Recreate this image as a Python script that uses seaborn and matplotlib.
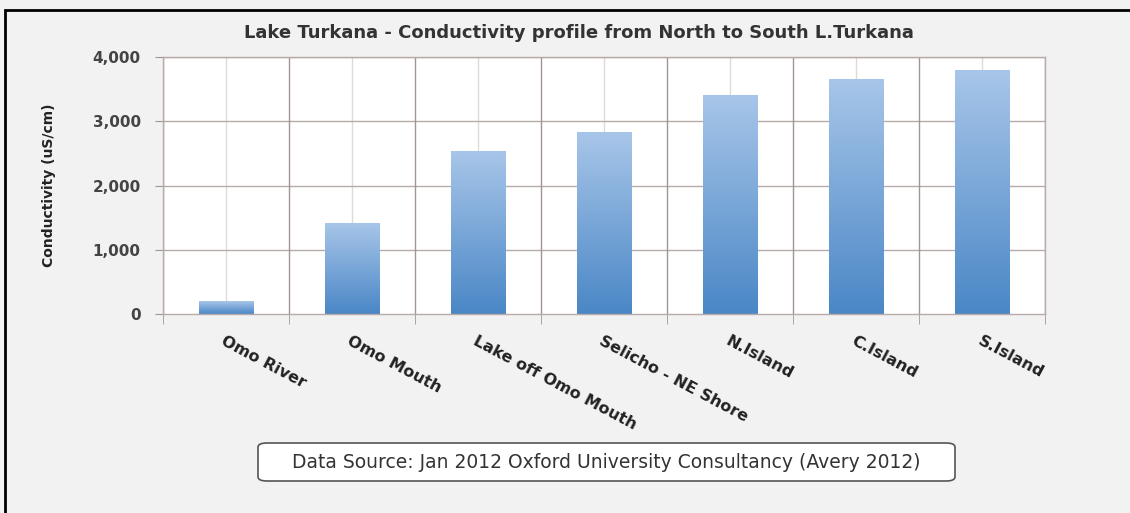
import numpy as np
import seaborn as sns
import pandas as pd
from matplotlib import pyplot as plt
from matplotlib.patches import Rectangle, FancyBboxPatch
from matplotlib.colors import LinearSegmentedColormap

# data
sites = ["Omo River", "Omo Mouth", "Lake off Omo Mouth", "Selicho - NE Shore",
         "N.Island", "C.Island", "S.Island"]
conductivity = [200, 1420, 2540, 2830, 3410, 3660, 3800]
yticks = [0, 1000, 2000, 3000, 4000]

df = pd.DataFrame({"Site": sites, "Conductivity": conductivity})

sns.set_style("white")
plt.rcParams['font.family'] = ['DejaVu Sans']

fig = plt.figure(figsize=(11.3, 5.13), dpi=100, facecolor="#f2f2f2")
ax = fig.add_axes([0.1442, 0.3879, 0.7806, 0.5010])
ax.set_facecolor("white")

sns.barplot(data=df, x="Site", y="Conductivity", order=sites, color="#5b97d2",
            width=0.43, saturation=1, ax=ax)

# gradient fill inside each bar
cmap = LinearSegmentedColormap.from_list("bar", ["#4a87c6", "#a8c6e9"])
grad = np.linspace(0, 1, 256).reshape(-1, 1)
for p in ax.patches:
    x0, y0 = p.get_x(), p.get_y()
    w, h = p.get_width(), p.get_height()
    im = ax.imshow(grad, extent=[x0, x0 + w, y0, y0 + h], origin="lower",
                   aspect="auto", cmap=cmap, zorder=p.get_zorder())
    im.set_clip_path(p)
    p.set_edgecolor("none")

ax.set_xlim(-0.5, len(sites) - 0.5)
ax.set_ylim(0, 4000)
ax.set_yticks(yticks)
ax.set_yticklabels([f"{v:,}" for v in yticks], fontsize=11, fontweight="bold",
                   color="#444444")

# grid: horizontal lines, category boundaries and faint center lines
for v in yticks[1:]:
    ax.axhline(v, color="#b9aaaa", lw=1, zorder=0.5)
for i in range(len(sites) + 1):
    ax.axvline(i - 0.5, color="#a39494", lw=1, zorder=0.5)
for i in range(len(sites)):
    ax.axvline(i, color="#e3d8d8", lw=1, zorder=0.4)

ax.set_xticks(range(len(sites)))
ax.set_xticklabels(sites, rotation=-28, ha="left", va="top", rotation_mode="anchor",
                   fontsize=11.5, fontweight="bold", color="#222222")
ax.set_xticks(np.arange(len(sites) + 1) - 0.5, minor=True)
ax.tick_params(axis="x", which="major", length=0, pad=14)
ax.tick_params(axis="x", which="minor", length=7, color="#a39494", bottom=True)
ax.tick_params(axis="y", length=6, color="#a39494", pad=10, left=True)

for s in ax.spines.values():
    s.set_color("#b9aaaa")
    s.set_linewidth(1)

ax.set_xlabel("")
ax.set_ylabel("Conductivity (uS/cm)", fontsize=10, fontweight="bold",
              color="#222222", labelpad=26)

fig.text(0.512, 0.935, "Lake Turkana - Conductivity profile from North to South L.Turkana",
         ha="center", va="center", fontsize=13, fontweight="bold", color="#333333")

# source box
box = FancyBboxPatch((258 / 1130, 1 - 481 / 513), 697 / 1130, 38 / 513,
                     boxstyle="round,pad=0,rounding_size=0.008",
                     transform=fig.transFigure, facecolor="white",
                     edgecolor="#555555", lw=1.2)
fig.add_artist(box)
fig.text(606 / 1130, 1 - 462 / 513,
         "Data Source: Jan 2012 Oxford University Consultancy (Avery 2012)",
         ha="center", va="center", fontsize=13.5, color="#333333")

# outer frame
fig.add_artist(Rectangle((5 / 1130, -0.1), 1.2, 1.1 - 10 / 513,
                         transform=fig.transFigure, fill=False,
                         edgecolor="black", lw=2))

fig.savefig("out.png", dpi=100, facecolor=fig.get_facecolor())
